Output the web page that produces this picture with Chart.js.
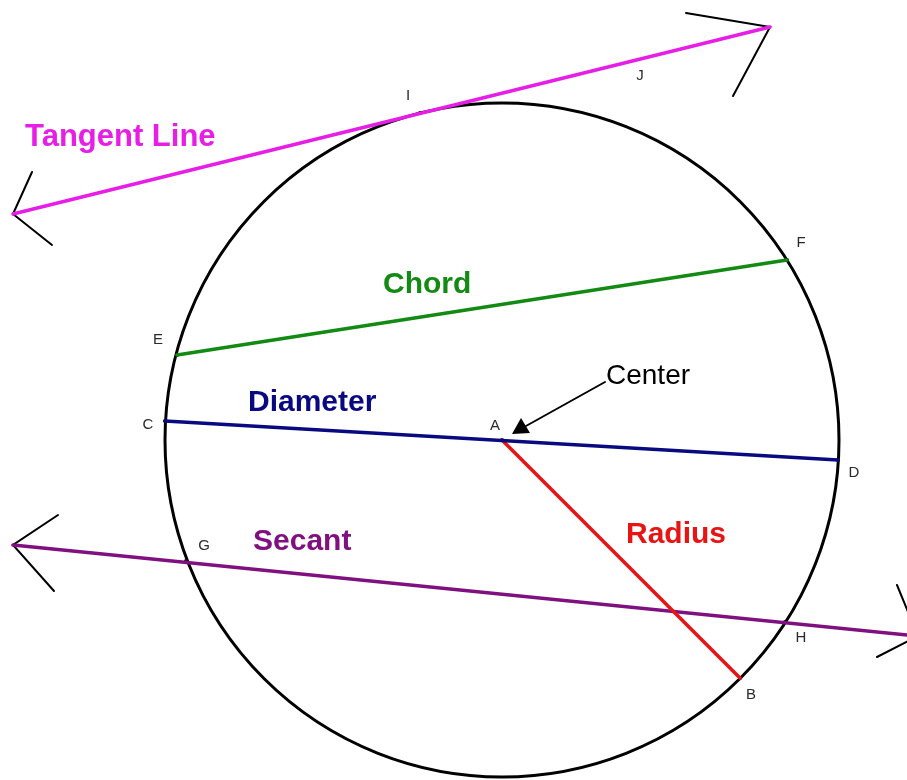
<!DOCTYPE html>
<html>
<head>
<meta charset="utf-8">
<script src="https://cdn.jsdelivr.net/npm/chart.js@4/dist/chart.umd.min.js"></script>
<style>
html,body{margin:0;padding:0;background:#fff;}
#wrap{width:907px;height:780px;}
</style>
</head>
<body>
<div id="wrap"><canvas id="c" width="907" height="780"></canvas></div>
<script>
// ---- Data (diagram coordinates, y grows downward) ----
const circleCenter = [502, 440];
const circleRadius = 337;

const tangentX = [13, 770];
const tangentY = [214, 27];
const chordX = [177, 787];
const chordY = [355, 260];
const diameterX = [165, 838];
const diameterY = [421, 460];
const radiusX = [502, 740];
const radiusY = [440, 678];
const secantX = [13, 918];
const secantY = [545, 636];

// arrowheads: arm end, tip, arm end
const tangentLeftArrowX = [32, 13, 52];
const tangentLeftArrowY = [172, 214, 245];
const tangentRightArrowX = [686, 770, 733];
const tangentRightArrowY = [13, 27, 96];
const secantLeftArrowX = [58, 13, 54];
const secantLeftArrowY = [515, 545, 591];
const secantRightArrowX = [897, 918, 877];
const secantRightArrowY = [585, 636, 657];

// labelled points
const pointNames = ['A', 'B', 'C', 'D', 'E', 'F', 'G', 'H', 'I'];
const pointX = [502, 740, 165, 838, 177, 787, 186, 785, 420];
const pointY = [440, 678, 421, 460, 355, 260, 561, 622, 113];

// point letter labels
const letterNames = ['I', 'J', 'F', 'E', 'C', 'A', 'D', 'G', 'H', 'B'];
const letterX = [408, 640, 801, 158, 148, 495, 854, 204, 801, 751];
const letterY = [96, 76, 243, 340, 425, 426, 473, 546, 638, 695];

// titles
const titleNames = ['Tangent Line', 'Chord', 'Diameter', 'Secant', 'Radius'];
const titleX = [25, 383, 248, 253, 626];
const titleY = [146, 293, 411, 550, 543];
const titleSizes = [31, 30, 30, 30, 30];
const titleColors = ['#e61ee6', '#138a13', '#0a0a80', '#80107f', '#e81414'];

// center callout
const centerText = 'Center';
const centerTextX = 606;
const centerTextY = 384;
const centerArrowX = [605, 526];
const centerArrowY = [382, 426];
const centerHeadX = [512, 530, 521];
const centerHeadY = [434, 433, 418];

function pts(xs, ys) { return xs.map((x, i) => ({x: x, y: ys[i]})); }

function seg(xs, ys, color, w) {
  return {
    data: pts(xs, ys), showLine: true, borderColor: color, backgroundColor: color,
    borderWidth: w, pointRadius: 0, tension: 0, fill: false, borderCapStyle: 'round'
  };
}

const diagramPlugin = {
  id: 'diagram',
  beforeDatasetsDraw(chart) {
    const ctx = chart.ctx, xs = chart.scales.x, ys = chart.scales.y;
    const cx = xs.getPixelForValue(circleCenter[0]);
    const cy = ys.getPixelForValue(circleCenter[1]);
    const r = xs.getPixelForValue(circleCenter[0] + circleRadius) - cx;
    ctx.save();
    ctx.beginPath();
    ctx.arc(cx, cy, r, 0, Math.PI * 2);
    ctx.lineWidth = 3;
    ctx.strokeStyle = '#000';
    ctx.stroke();
    ctx.restore();
  },
  afterDatasetsDraw(chart) {
    const ctx = chart.ctx, xs = chart.scales.x, ys = chart.scales.y;
    ctx.save();
    // center arrowhead
    ctx.beginPath();
    centerHeadX.forEach((x, i) => {
      const px = xs.getPixelForValue(x), py = ys.getPixelForValue(centerHeadY[i]);
      if (i === 0) ctx.moveTo(px, py); else ctx.lineTo(px, py);
    });
    ctx.closePath();
    ctx.fillStyle = '#000';
    ctx.fill();
    // titles
    ctx.textBaseline = 'alphabetic';
    ctx.textAlign = 'left';
    titleNames.forEach((t, i) => {
      ctx.font = 'bold ' + titleSizes[i] + 'px "Liberation Sans", Arial, sans-serif';
      ctx.fillStyle = titleColors[i];
      ctx.fillText(t, xs.getPixelForValue(titleX[i]), ys.getPixelForValue(titleY[i]));
    });
    ctx.font = '28px "Liberation Sans", Arial, sans-serif';
    ctx.fillStyle = '#000';
    ctx.fillText(centerText, xs.getPixelForValue(centerTextX), ys.getPixelForValue(centerTextY));
    // letters
    ctx.font = '15px "Liberation Sans", Arial, sans-serif';
    ctx.textAlign = 'center';
    ctx.textBaseline = 'middle';
    ctx.fillStyle = '#2a2a2a';
    letterNames.forEach((t, i) => {
      ctx.fillText(t, xs.getPixelForValue(letterX[i]), ys.getPixelForValue(letterY[i]));
    });
    ctx.restore();
  }
};

new Chart(document.getElementById('c'), {
  type: 'scatter',
  data: {
    datasets: [
      seg(tangentX, tangentY, '#e61ee6', 3.5),
      seg(chordX, chordY, '#138a13', 3.5),
      seg(diameterX, diameterY, '#0a0a80', 3.5),
      seg(radiusX, radiusY, '#e81414', 3.5),
      seg(secantX, secantY, '#80107f', 3.5),
      seg(tangentLeftArrowX, tangentLeftArrowY, '#000', 2),
      seg(tangentRightArrowX, tangentRightArrowY, '#000', 2),
      seg(secantLeftArrowX, secantLeftArrowY, '#000', 2),
      seg(secantRightArrowX, secantRightArrowY, '#000', 2),
      seg(centerArrowX, centerArrowY, '#000', 2),
      {
        data: pts(pointX, pointY), showLine: false, pointRadius: 2,
        pointBackgroundColor: '#111', pointBorderColor: '#111', pointBorderWidth: 0
      }
    ]
  },
  options: {
    responsive: false,
    animation: false,
    events: [],
    layout: { padding: 0, autoPadding: false },
    plugins: { legend: { display: false }, tooltip: { enabled: false }, title: { display: false } },
    scales: {
      x: { type: 'linear', min: 0, max: 907, display: false },
      y: { type: 'linear', min: 0, max: 780, reverse: true, display: false }
    }
  },
  plugins: [diagramPlugin]
});
</script>
</body>
</html>
